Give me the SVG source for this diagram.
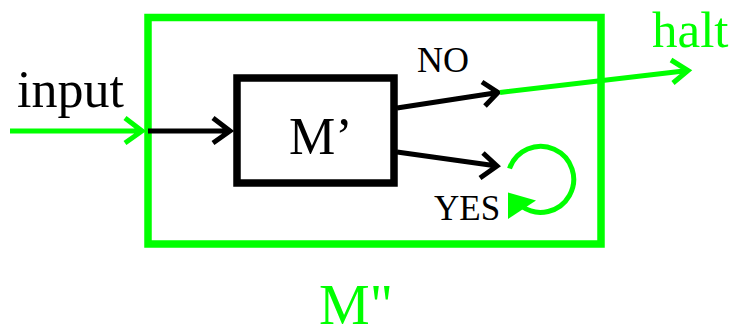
<svg xmlns="http://www.w3.org/2000/svg" width="734" height="329" viewBox="0 0 734 329">
<style>
text{font-family:"Liberation Serif","Times New Roman",serif}
.blk{fill:#000}
.grn{fill:#00ff00}
.lb{stroke:#000;stroke-width:5;fill:none}
.lg{stroke:#00ff00;stroke-width:5;fill:none}
</style>
<rect width="734" height="329" fill="#fff"/>
<g id="outer">
<rect x="148" y="17.5" width="453" height="226.5" fill="none" stroke="#00ff00" stroke-width="7.5"/>
<text class="grn" x="319" y="324" font-size="57">M"</text>
</g>
<g id="inner">
<rect x="237" y="78" width="157" height="105" fill="none" stroke="#000" stroke-width="7.5"/>
<text class="blk" x="289" y="154" font-size="52">M’</text>
</g>
<g id="labels">
<text class="blk" x="17" y="107" font-size="52">input</text>
<text class="grn" x="652" y="47" font-size="51">halt</text>
<text class="blk" x="417" y="72" font-size="36">NO</text>
<text class="blk" x="434" y="220" font-size="35">YES</text>
</g>
<g id="connectors">
<path class="lg" d="M10 131 H142 M125 118 L142 131 L125 143"/>
<path class="lb" d="M148 131 H231 M213 118 L230 131 L213 143"/>
<path class="lb" d="M397 108 L498 92.5 M482 82 L498 92.5 L485 106"/>
<path class="lg" d="M500 92.5 L688 70.5 M671 60 L688 70.5 L673 83"/>
<path class="lb" d="M397 152 L497 166 M483 153 L497 166 L480 178"/>
<path class="lg" d="M509.5 168.5 A33 33 0 1 1 522 206.5"/>
<polygon class="grn" points="508,192.5 536,200.5 508,219"/>
</g>
</svg>
